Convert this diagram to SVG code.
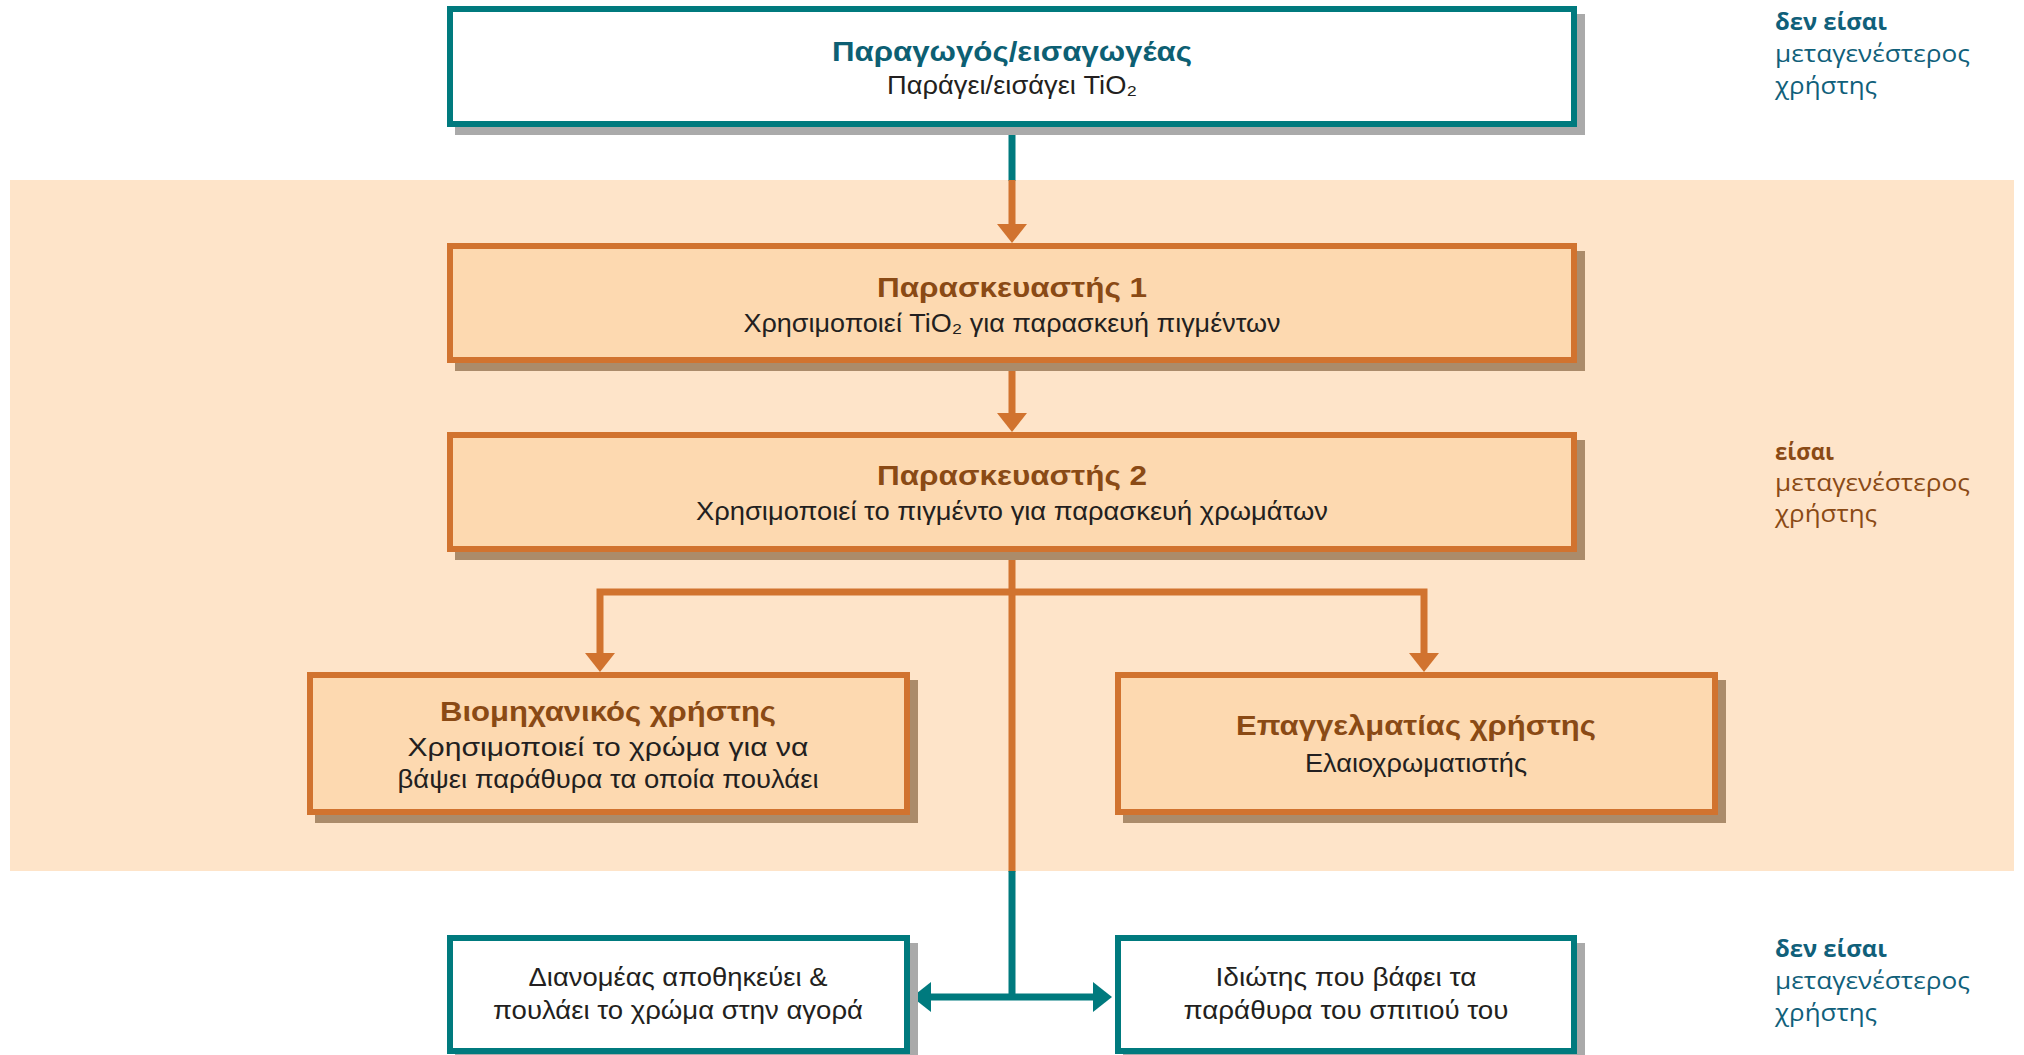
<svg xmlns="http://www.w3.org/2000/svg" width="2024" height="1055" viewBox="0 0 2024 1055">
<style>
.tealbox{fill:#ffffff;stroke:#007a7e;stroke-width:6}
.orbox{fill:#fdd9b0;stroke:#d1732f;stroke-width:6}
.gshadow{fill:#aaaaaa}
.oshadow{fill:#ab8b6a}
.t{font-family:"Liberation Sans",Arial,sans-serif;text-anchor:middle}
.title{font-size:28px;font-weight:bold}
.tt{fill:#0d5f73}
.bt{fill:#8a4a15}
.sub{font-size:25px;fill:#231f20}
.lbl{font-family:"Open Sans","Noto Sans",sans-serif;font-size:24px}
.lt{fill:#10607a}
.lb{fill:#8a4a15}
.b{font-weight:bold}
.oc{fill:none;stroke:#d1732f;stroke-width:7;stroke-linejoin:miter}
.tc{fill:none;stroke:#007a7e;stroke-width:7;stroke-linejoin:miter}
</style>
<defs>
<marker id="aor" markerUnits="userSpaceOnUse" markerWidth="19" markerHeight="30" refX="0" refY="15" orient="auto" overflow="visible">
<path d="M0,0 L19,15 L0,30 Z" fill="#d1732f"/>
</marker>
<marker id="ate" markerUnits="userSpaceOnUse" markerWidth="19" markerHeight="30" refX="0" refY="15" orient="auto" overflow="visible">
<path d="M0,0 L19,15 L0,30 Z" fill="#007a7e"/>
</marker>
</defs>
<rect id="band" x="10" y="180" width="2004" height="691" fill="#fee4c9"/>
<g id="connectors">
<path class="tc" d="M1012,127 V181"/>
<path class="oc" d="M1012,180 V224" marker-end="url(#aor)"/>
<path class="oc" d="M1012,363 V413" marker-end="url(#aor)"/>
<path class="oc" d="M1012,552 V872"/>
<path class="oc" d="M1012,592 H600 V653" marker-end="url(#aor)"/>
<path class="oc" d="M1012,592 H1424 V653" marker-end="url(#aor)"/>
<path class="tc" d="M1012,871 V997"/>
<path class="tc" d="M1012,997 H931" marker-end="url(#ate)"/>
<path class="tc" d="M1012,997 H1093" marker-end="url(#ate)"/>
</g>
<g id="node-producer">
<rect class="gshadow" x="455" y="14" width="1130" height="121"/>
<rect class="tealbox" x="450" y="9" width="1124" height="115"/>
<text class="t title tt" x="1012" y="61" textLength="360" lengthAdjust="spacingAndGlyphs">Παραγωγός/εισαγωγέας</text>
<text class="t sub" x="1012" y="94" textLength="250" lengthAdjust="spacingAndGlyphs">Παράγει/εισάγει TiO₂</text>
</g>
<g id="node-formulator1">
<rect class="oshadow" x="455" y="251" width="1130" height="120"/>
<rect class="orbox" x="450" y="246" width="1124" height="114"/>
<text class="t title bt" x="1012" y="297" textLength="270" lengthAdjust="spacingAndGlyphs">Παρασκευαστής 1</text>
<text class="t sub" x="1012" y="332" textLength="537" lengthAdjust="spacingAndGlyphs">Χρησιμοποιεί TiO₂ για παρασκευή πιγμέντων</text>
</g>
<g id="node-formulator2">
<rect class="oshadow" x="455" y="440" width="1130" height="120"/>
<rect class="orbox" x="450" y="435" width="1124" height="114"/>
<text class="t title bt" x="1012" y="485" textLength="270" lengthAdjust="spacingAndGlyphs">Παρασκευαστής 2</text>
<text class="t sub" x="1012" y="520" textLength="632" lengthAdjust="spacingAndGlyphs">Χρησιμοποιεί το πιγμέντο για παρασκευή χρωμάτων</text>
</g>
<g id="node-industrial">
<rect class="oshadow" x="315" y="680" width="603" height="143"/>
<rect class="orbox" x="310" y="675" width="597" height="137"/>
<text class="t title bt" x="608" y="721" textLength="336" lengthAdjust="spacingAndGlyphs">Βιομηχανικός χρήστης</text>
<text class="t sub" x="608" y="756" textLength="401" lengthAdjust="spacingAndGlyphs">Χρησιμοποιεί το χρώμα για να</text>
<text class="t sub" x="608" y="788" textLength="421" lengthAdjust="spacingAndGlyphs">βάψει παράθυρα τα οποία πουλάει</text>
</g>
<g id="node-professional">
<rect class="oshadow" x="1123" y="680" width="603" height="143"/>
<rect class="orbox" x="1118" y="675" width="597" height="137"/>
<text class="t title bt" x="1416" y="735" textLength="360" lengthAdjust="spacingAndGlyphs">Επαγγελματίας χρήστης</text>
<text class="t sub" x="1416" y="772" textLength="222" lengthAdjust="spacingAndGlyphs">Ελαιοχρωματιστής</text>
</g>
<g id="node-distributor">
<rect class="gshadow" x="455" y="943" width="463" height="120"/>
<rect class="tealbox" x="450" y="938" width="457" height="113"/>
<text class="t sub" x="678" y="986" textLength="299" lengthAdjust="spacingAndGlyphs">Διανομέας αποθηκεύει &amp;</text>
<text class="t sub" x="678" y="1019" textLength="370" lengthAdjust="spacingAndGlyphs">πουλάει το χρώμα στην αγορά</text>
</g>
<g id="node-private">
<rect class="gshadow" x="1123" y="943" width="462" height="120"/>
<rect class="tealbox" x="1118" y="938" width="456" height="113"/>
<text class="t sub" x="1346" y="986" textLength="261" lengthAdjust="spacingAndGlyphs">Ιδιώτης που βάφει τα</text>
<text class="t sub" x="1346" y="1019" textLength="325" lengthAdjust="spacingAndGlyphs">παράθυρα του σπιτιού του</text>
</g>
<g id="label-top">
<text class="lbl lt b" x="1775" y="30" textLength="112" lengthAdjust="spacingAndGlyphs">δεν είσαι</text>
<text class="lbl lt" x="1775" y="62" textLength="195" lengthAdjust="spacingAndGlyphs">μεταγενέστερος</text>
<text class="lbl lt" x="1775" y="94" textLength="102" lengthAdjust="spacingAndGlyphs">χρήστης</text>
</g>
<g id="label-middle">
<text class="lbl lb b" x="1775" y="460" textLength="59" lengthAdjust="spacingAndGlyphs">είσαι</text>
<text class="lbl lb" x="1775" y="491" textLength="195" lengthAdjust="spacingAndGlyphs">μεταγενέστερος</text>
<text class="lbl lb" x="1775" y="522" textLength="102" lengthAdjust="spacingAndGlyphs">χρήστης</text>
</g>
<g id="label-bottom">
<text class="lbl lt b" x="1775" y="957" textLength="112" lengthAdjust="spacingAndGlyphs">δεν είσαι</text>
<text class="lbl lt" x="1775" y="989" textLength="195" lengthAdjust="spacingAndGlyphs">μεταγενέστερος</text>
<text class="lbl lt" x="1775" y="1021" textLength="102" lengthAdjust="spacingAndGlyphs">χρήστης</text>
</g>
</svg>
